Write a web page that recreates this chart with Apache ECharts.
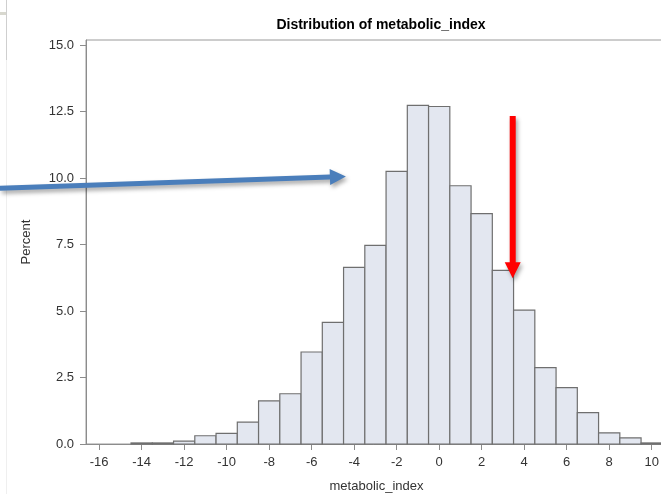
<!DOCTYPE html>
<html>
<head>
<meta charset="utf-8">
<script src="https://cdn.jsdelivr.net/npm/echarts@6/dist/echarts.min.js"></script>
<style>html,body{margin:0;padding:0;background:#fff;}#c{width:661px;height:494px;}</style>
</head>
<body>
<div id="c"></div>
<script>
// ---- data ----
const binCenters = [-14,-13,-12,-11,-10,-9,-8,-7,-6,-5,-4,-3,-2,-1,0,1,2,3,4,5,6,7,8,9,10];
const percents   = [0.04,0.04,0.11,0.31,0.40,0.82,1.62,1.89,3.46,4.57,6.64,7.47,10.25,12.73,12.69,9.71,8.66,6.53,5.03,2.87,2.12,1.18,0.42,0.23,0.04];
const binWidth = 1;
const xTicks = [-16,-14,-12,-10,-8,-6,-4,-2,0,2,4,6,8,10];
const yTicks = [0,2.5,5,7.5,10,12.5,15];
const titleText = 'Distribution of metabolic_index';
const xName = 'metabolic_index';
const yName = 'Percent';
// annotation arrows in data coordinates
const blueArrow = {from: [-20.67, 9.62], to: [-4.39, 10.06]};
const redArrow  = {from: [3.46, 12.33], to: [3.46, 6.23]};

const FONT = 'Liberation Sans, Arial, sans-serif';
const chart = echarts.init(document.getElementById('c'), null, {renderer: 'canvas'});

const option = {
  animation: false,
  backgroundColor: '#fff',
  title: {
    text: titleText, left: 376, top: 13, textAlign: 'center',
    textStyle: {fontFamily: FONT, fontSize: 14, fontWeight: 'bold', color: '#000'}
  },
  grid: {left: 86, top: 40, width: 581, height: 404, outerBoundsMode: 'none', containLabel: false,
    show: true, borderColor: '#9a9a9a', borderWidth: 1, backgroundColor: 'transparent'},
  xAxis: {
    type: 'value', min: -16.62, max: 10.72,
    name: xName, nameLocation: 'middle', nameGap: 36,
    nameTextStyle: {fontFamily: FONT, fontSize: 13, color: '#333'},
    axisLine: {show: true, onZero: false, lineStyle: {color: '#8c8c8c'}},
    axisTick: {show: true, length: 6, customValues: xTicks, lineStyle: {color: '#8c8c8c'}},
    axisLabel: {customValues: xTicks, margin: 12, fontFamily: FONT, fontSize: 13, color: '#333'},
    splitLine: {show: false}
  },
  yAxis: {
    type: 'value', min: 0, max: 15.19,
    name: yName, nameLocation: 'middle', nameGap: 53, nameRotate: 90,
    nameTextStyle: {fontFamily: FONT, fontSize: 13, color: '#333'},
    axisLine: {show: true, onZero: false, lineStyle: {color: '#8c8c8c'}},
    axisTick: {show: true, length: 6, customValues: yTicks, lineStyle: {color: '#8c8c8c'}},
    axisLabel: {customValues: yTicks, margin: 12, fontFamily: FONT, fontSize: 13, color: '#333',
      formatter: v => Number(v).toFixed(1)},
    splitLine: {show: false}
  },
  series: [{
    type: 'custom',
    data: binCenters.map((c, i) => [c, percents[i]]),
    renderItem: function (params, api) {
      const c = api.value(0), v = api.value(1);
      const p0 = api.coord([c - binWidth / 2, 0]);
      const p1 = api.coord([c + binWidth / 2, v]);
      return {
        type: 'rect',
        shape: {x: p0[0], y: p1[1], width: p1[0] - p0[0], height: p0[1] - p1[1]},
        style: {fill: '#E3E7F0', stroke: '#6f6f6f', lineWidth: 1.2}
      };
    }
  }]
};
chart.setOption(option);

function arrowPoly(a, b, w, L, H) {
  const dx = b[0] - a[0], dy = b[1] - a[1];
  const len = Math.hypot(dx, dy);
  const ux = dx / len, uy = dy / len, nx = -uy, ny = ux;
  const bx = b[0] - ux * L, by = b[1] - uy * L;
  return [
    [a[0] + nx * w / 2, a[1] + ny * w / 2],
    [bx + nx * w / 2, by + ny * w / 2],
    [bx + nx * H / 2, by + ny * H / 2],
    [b[0], b[1]],
    [bx - nx * H / 2, by - ny * H / 2],
    [bx - nx * w / 2, by - ny * w / 2],
    [a[0] - nx * w / 2, a[1] - ny * w / 2]
  ];
}
const toPx = p => chart.convertToPixel({gridIndex: 0}, p);
const shadow = {shadowBlur: 4, shadowOffsetX: 2, shadowOffsetY: 3, shadowColor: 'rgba(0,0,0,0.35)'};
chart.setOption({
  graphic: [
    {type: 'rect', shape: {x: 6, y: 0, width: 1, height: 60}, style: {fill: '#cfcfcf'}, z: 50},
    {type: 'rect', shape: {x: 0, y: 12, width: 6, height: 3}, style: {fill: '#d8d8cf'}, z: 50},
    {type: 'rect', shape: {x: 6, y: 60, width: 1, height: 434}, style: {fill: '#efefef'}, z: 50},
    {type: 'polygon', shape: {points: arrowPoly(toPx(blueArrow.from), toPx(blueArrow.to), 5, 16, 16)},
      style: Object.assign({fill: '#4A7EBB'}, shadow), z: 100},
    {type: 'polygon', shape: {points: arrowPoly(toPx(redArrow.from), toPx(redArrow.to), 6, 16, 16)},
      style: Object.assign({fill: '#FF0000'}, shadow), z: 100}
  ]
});
</script>
</body>
</html>
